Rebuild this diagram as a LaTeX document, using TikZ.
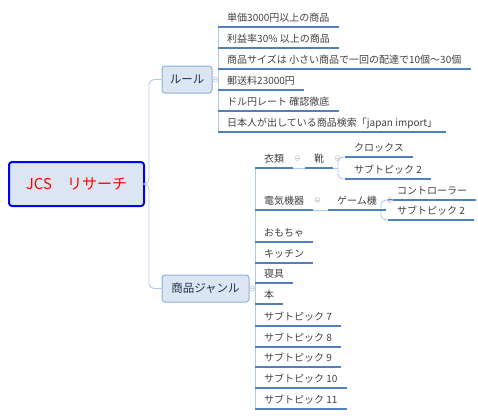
\documentclass[tikz,border=0pt]{standalone}
\usepackage{fontspec}
\setmainfont{Noto Sans CJK JP}
\definecolor{branchc}{HTML}{B0C8EA}
\definecolor{ulinec}{HTML}{4F81BD}
\definecolor{leaftext}{HTML}{404040}
\definecolor{boxfill}{HTML}{DCE6F2}
\definecolor{boxdraw}{HTML}{8EB0DC}
\definecolor{topictext}{HTML}{1F3050}
\definecolor{foldc}{HTML}{C4CCDA}
\tikzset{
  rootbox/.style={draw=blue, line width=2pt, fill=boxfill, rounded corners=3pt,
    minimum width=135pt, minimum height=44pt, text=red, font=\fontsize{15}{18}\selectfont},
  mainbox/.style={draw=boxdraw, line width=1pt, fill=boxfill, rounded corners=3pt,
    minimum height=27pt, inner xsep=7pt, text=topictext, font=\fontsize{11.5}{14}\selectfont},
  leaf/.style={anchor=south west, inner xsep=9pt, inner ysep=3pt, text height=8pt, text depth=2pt,
    text=leaftext, font=\fontsize{10}{12}\selectfont},
  branch/.style={draw=branchc, line width=0.9pt},
  uline/.style={draw=ulinec, line width=1.4pt},
  fold/.style={circle, draw=foldc, line width=0.6pt, minimum size=5pt, inner sep=0pt,
    path picture={\draw[foldc, line width=0.5pt] ([xshift=-1.5pt]path picture bounding box.center) -- ([xshift=1.5pt]path picture bounding box.center);}}
}
\begin{document}
\begin{tikzpicture}[x=1pt,y=-1pt]
\useasboundingbox (0,0) rectangle (478,418);
% main nodes
\node[rootbox] (root) at (76.5,184) {JCS\hspace{1em}リサーチ};
\node[mainbox, minimum width=50pt] (rule) at (187,79.5) {ルール};
\node[mainbox, minimum width=87pt] (genre) at (205.5,288.5) {商品ジャンル};
% rule leaves
\node[leaf] (r1) at (218,27) {単価3000円以上の商品};
\node[leaf] (r2) at (218,48) {利益率30\% 以上の商品};
\node[leaf] (r3) at (218,69) {商品サイズは 小さい商品で一回の配達で10個～30個};
\node[leaf] (r4) at (218,90) {郵送料23000円};
\node[leaf] (r5) at (218,111) {ドル円レート 確認徹底};
\node[leaf] (r6) at (218,132) {日本人が出している商品検索「japan import」};
% genre leaves
\node[leaf] (g1) at (255,168) {衣類};
\node[leaf] (g1a) at (305,168) {靴};
\node[leaf] (g1a1) at (345,157) {クロックス};
\node[leaf] (g1a2) at (345,179) {サブトピック 2};
\node[leaf] (g2) at (255,210) {電気機器};
\node[leaf] (g2a) at (328,210) {ゲーム機};
\node[leaf] (g2a1) at (388,200) {コントローラー};
\node[leaf] (g2a2) at (388,220) {サブトピック 2};
\node[leaf] (g3) at (255,242) {おもちゃ};
\node[leaf] (g4) at (255,263) {キッチン};
\node[leaf] (g5) at (255,283) {寝具};
\node[leaf] (g6) at (255,304) {本};
\node[leaf] (g7) at (255,326) {サブトピック 7};
\node[leaf] (g8) at (255,347) {サブトピック 8};
\node[leaf] (g9) at (255,367) {サブトピック 9};
\node[leaf] (g10) at (255,388) {サブトピック 10};
\node[leaf] (g11) at (255,409) {サブトピック 11};
% branches
\draw[branch, rounded corners=5pt] (root.east) -- ++(4,0) |- (rule.west);
\draw[branch, rounded corners=5pt] (root.east) -- ++(4,0) |- (genre.west);
\draw[branch] (rule.east) -- (rule.east -| r1.south west);
\draw[branch] (r1.south west) -- (r6.south west);
\draw[branch] (genre.east) -- (genre.east -| g1.south west);
\draw[branch] (g1.south west) -- (g11.south west);
\draw[branch] (g1.south east) -- (g1a.south west);
\draw[branch] (g2.south east) -- (g2a.south west);
\draw[branch, rounded corners=5pt] (g1a1.south west) -- ++(-7,0) |- (g1a2.south west);
\draw[branch] (g1a.south east) -- ([xshift=-7pt]g1a1.south west |- g1a.south east);
\draw[branch, rounded corners=5pt] (g2a1.south west) -- ++(-7,0) |- (g2a2.south west);
\draw[branch] (g2a.south east) -- ([xshift=-7pt]g2a1.south west |- g2a.south east);
% underlines
\foreach \n in {r1,r2,r3,r4,r5,r6,g1,g1a,g1a1,g1a2,g2,g2a,g2a1,g2a2,g3,g4,g5,g6,g7,g8,g9,g10,g11}
  \draw[uline] (\n.south west) -- (\n.south east);
% fold markers
\node[fold, fill=white] (f0) at ([xshift=3pt]rule.east) {};
\node[fold, fill=white] (f1) at ([xshift=3pt]genre.east) {};
\node[fold] (f2) at ([xshift=4pt,yshift=10pt]g1.south east) {};
\node[fold] (f3) at ([xshift=4pt,yshift=10pt]g1a.south east) {};
\node[fold] (f4) at ([xshift=4pt,yshift=10pt]g2.south east) {};
\node[fold] (f5) at ([xshift=4pt,yshift=10pt]g2a.south east) {};
\end{tikzpicture}
\end{document}
